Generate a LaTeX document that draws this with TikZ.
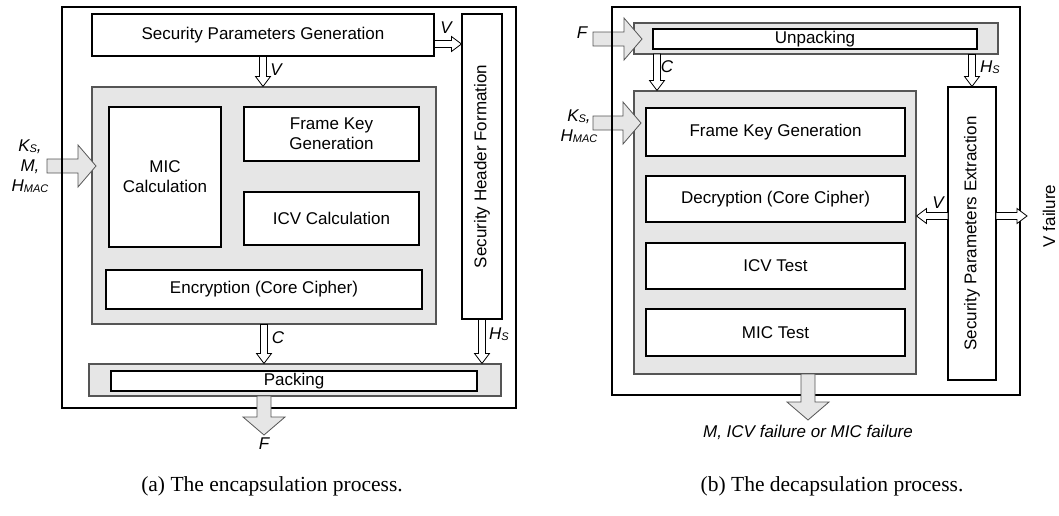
\documentclass[tikz,border=0pt]{standalone}
\usepackage{fontspec}
\setmainfont{Liberation Sans}
\newfontfamily\capfont{Liberation Serif}
\usetikzlibrary{calc}
\definecolor{boxgray}{HTML}{E6E6E6}
\definecolor{edgegray}{HTML}{555555}
\tikzset{
  blockarrow/.style n args={3}{to path={
    ($(\tikztostart)!#1!90:(\tikztotarget)$)
    -- ($(\tikztotarget)!#3!(\tikztostart)!#1!90:(\tikztotarget)$)
    -- ($(\tikztotarget)!#3!(\tikztostart)!#2!90:(\tikztotarget)$)
    -- (\tikztotarget)
    -- ($(\tikztotarget)!#3!(\tikztostart)!#2!-90:(\tikztotarget)$)
    -- ($(\tikztotarget)!#3!(\tikztostart)!#1!-90:(\tikztotarget)$)
    -- ($(\tikztostart)!#1!-90:(\tikztotarget)$) -- cycle}},
  holarrow/.style={draw=black, fill=white, line width=0.8pt, blockarrow={3.5pt}{7.5pt}{10pt}},
  fatarrow/.style={draw=edgegray, fill=boxgray, line width=0.8pt, blockarrow={7pt}{21pt}{18pt}},
  wbox/.style={draw=black, fill=white, line width=1.1pt, inner sep=0pt, align=center},
  gbox/.style={draw=edgegray, fill=boxgray, line width=1.1pt, inner sep=0pt},
  framebox/.style={draw=black, line width=2pt, inner sep=0pt},
  lbl/.style={font=\fontsize{17}{20}\selectfont\itshape, inner sep=0pt, align=center},
  captext/.style={font=\capfont\fontsize{21.5}{25}\selectfont, inner sep=0pt},
}
\newcommand{\subsc}[1]{{\fontsize{11}{11}\selectfont\raisebox{-1.5pt}{#1}}}
\begin{document}
\begin{tikzpicture}[x=1pt,y=-1pt, font=\fontsize{17}{20}\selectfont]
\useasboundingbox (0,0) rectangle (1059,515);
% ---------- (a) encapsulation ----------
\node[gbox, minimum width=344pt, minimum height=237pt] (grayA) at (264,205.5) {};
\node[wbox, minimum width=342pt, minimum height=42pt] (spg) at (263,35) {Security Parameters Generation};
\node[wbox, minimum width=40pt, minimum height=305pt] (shf) at (482,166.5) {};
\node[rotate=90, inner sep=0pt] (shft) at (shf.center) {Security Header Formation};
\node[wbox, minimum width=112pt, minimum height=140pt] (mic) at (165,177) {MIC\\Calculation};
\node[wbox, minimum width=175pt, minimum height=54pt] (fkg) at (331.5,134) {Frame Key\\Generation};
\node[wbox, minimum width=175pt, minimum height=53pt] (icv) at (331.5,218.5) {ICV Calculation};
\node[wbox, minimum width=316pt, minimum height=39pt] (enc) at (264,289.5) {Encryption (Core Cipher)};
\node[gbox, minimum width=412pt, minimum height=32pt] (packG) at (295,380) {};
\node[wbox, minimum width=366pt, minimum height=20pt] (pack) at (294,381) {Packing};
% input arrow (under frame)
\coordinate (kin) at (47,166);
\coordinate (ktip) at (96,166);
\draw[fatarrow] (kin) to (ktip);
\node[lbl] (klbl) at (30,166) {K\subsc{S},\\M,\\H\subsc{MAC}};
\node[framebox, minimum width=454pt, minimum height=401pt] (outerA) at (289,207.5) {};
% connectors
\coordinate (v1) at ([yshift=-9pt]spg.east);
\draw[holarrow] (v1) to (v1 -| shf.west);
\node[lbl] (v1l) at (446,28) {V};
\draw[holarrow] (spg.south) to (spg.south |- grayA.north);
\node[lbl] (v2l) at (276,70) {V};
\draw[holarrow] (grayA.south) to (grayA.south |- packG.north);
\node[lbl] (cl) at (278,338) {C};
\draw[holarrow] (shf.south) to (shf.south |- packG.north);
\node[lbl] (hsl) at (499,334) {H\subsc{S}};
\coordinate (fa) at (264,396);
\coordinate (fatip) at (264,435);
\draw[fatarrow] (fa) to (fatip);
\node[lbl] (fl) at (264,444) {F};
% ---------- (b) decapsulation ----------
\node[gbox, minimum width=364pt, minimum height=31pt] (unpG) at (816,38.5) {};
\node[wbox, minimum width=324pt, minimum height=20pt] (unp) at (815,39) {Unpacking};
\node[gbox, minimum width=282pt, minimum height=283pt] (grayB) at (775,232.5) {};
\node[wbox, minimum width=259pt, minimum height=48pt] (fkg2) at (775.5,132) {Frame Key Generation};
\node[wbox, minimum width=259pt, minimum height=46pt] (dec) at (775.5,199) {Decryption (Core Cipher)};
\node[wbox, minimum width=259pt, minimum height=46pt] (icvt) at (775.5,266) {ICV Test};
\node[wbox, minimum width=259pt, minimum height=47pt] (mict) at (775.5,332.5) {MIC Test};
\node[wbox, minimum width=48pt, minimum height=293pt] (spe) at (972,233.5) {};
\node[rotate=90, inner sep=0pt] (spet) at (spe.center) {Security Parameters Extraction};
% input arrows (under frame)
\coordinate (fin) at (593,39);
\coordinate (fintip) at (642,39);
\draw[fatarrow] (fin) to (fintip);
\node[lbl] (f2l) at (582,33) {F};
\coordinate (kin2) at (593,123);
\coordinate (ktip2) at (641,123);
\draw[fatarrow] (kin2) to (ktip2);
\node[lbl] (k2l) at (579,126) {K\subsc{S},\\H\subsc{MAC}};
\node[framebox, minimum width=408pt, minimum height=388pt] (outerB) at (816,201) {};
% connectors
\coordinate (c2) at (657,54);
\draw[holarrow] (c2) to (c2 |- grayB.north);
\node[lbl] (c2l) at (667,67) {C};
\draw[holarrow] (spe.north |- unpG.south) to (spe.north);
\node[lbl] (hs2l) at (990,67) {H\subsc{S}};
\coordinate (vr) at (948,216);
\draw[holarrow] (vr) to (vr -| grayB.east);
\node[lbl] (vrl) at (938,203) {V};
\coordinate (vf) at (996,216);
\coordinate (vft) at (1027,216);
\draw[holarrow] (vf) to (vft);
\node[rotate=90, inner sep=0pt] (vfl) at (1049,216) {V failure};
\coordinate (mo) at (808,374);
\coordinate (mot) at (808,420);
\draw[fatarrow] (mo) to (mot);
\node[lbl] (mol) at (808,432) {M, ICV failure or MIC failure};
% captions
\node[captext] (capa) at (272,486) {(a) The encapsulation process.};
\node[captext] (capb) at (832,486) {(b) The decapsulation process.};
\end{tikzpicture}
\end{document}
